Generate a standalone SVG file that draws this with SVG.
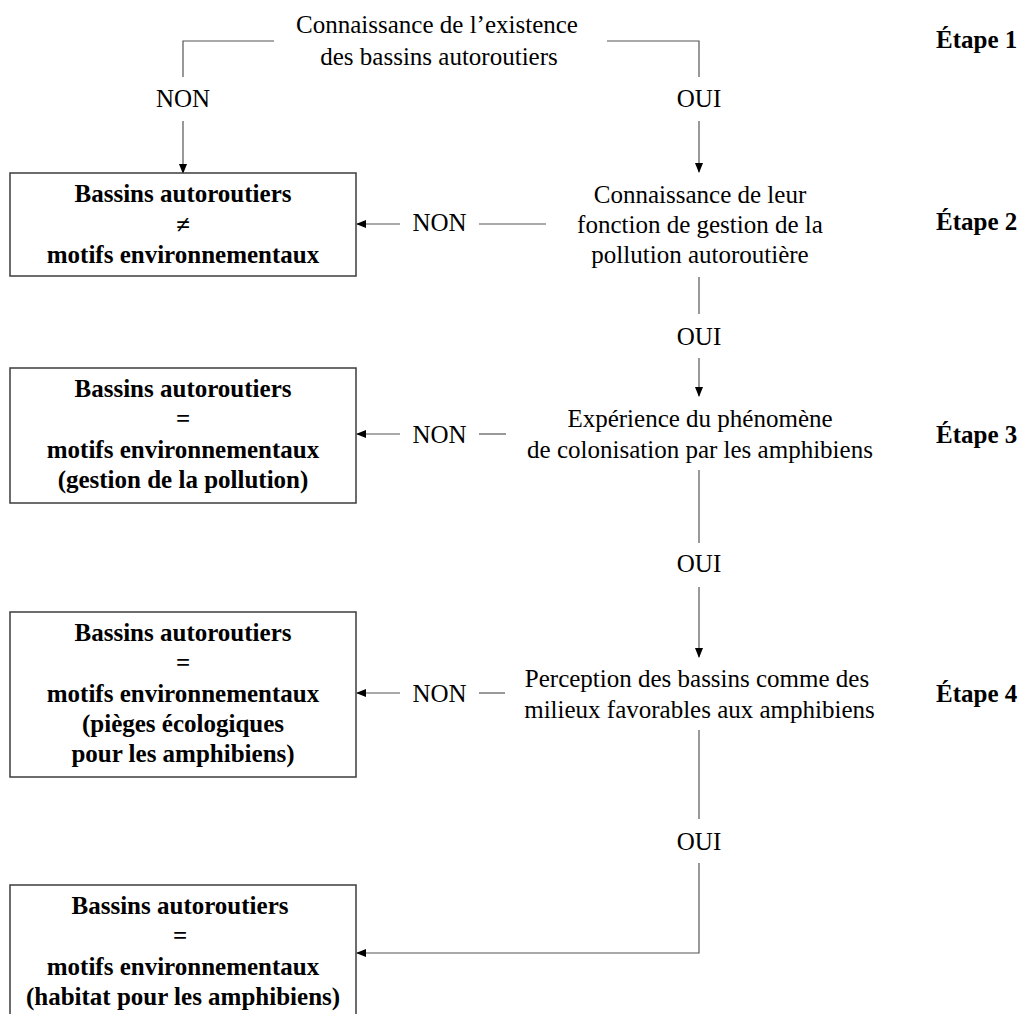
<svg xmlns="http://www.w3.org/2000/svg" width="1019" height="1014" viewBox="0 0 1019 1014">
<defs>
<marker id="ah" markerWidth="10" markerHeight="8" refX="9" refY="4" orient="auto" markerUnits="userSpaceOnUse">
<path d="M0,0 L10,4 L0,8 Z" fill="#000"/>
</marker>
<style>
text{font-family:"Liberation Serif","Times New Roman","DejaVu Serif",serif;font-size:25px;fill:#000;text-anchor:middle}
.b{font-weight:bold}
.st{font-weight:bold;text-anchor:start}
.box{fill:#fff;stroke:#3c3c3c;stroke-width:1.5}
.ln{fill:none;stroke:#555;stroke-width:1.2}
.ar{fill:none;stroke:#555;stroke-width:1.2;marker-end:url(#ah)}
</style>
</defs>
<rect width="1019" height="1014" fill="#fff"/>

<g id="connectors">
<path class="ln" d="M274,41 H183 V77"/>
<text x="183" y="107">NON</text>
<path class="ar" d="M183,121 V173"/>
<path class="ln" d="M607,41 H699 V77"/>
<text x="699" y="107">OUI</text>
<path class="ar" d="M699,121 V172"/>

<path class="ln" d="M546,224 H479"/>
<text x="439.5" y="231">NON</text>
<path class="ar" d="M400,224 H357"/>
<path class="ln" d="M699,277 V314"/>
<text x="699" y="345">OUI</text>
<path class="ar" d="M699,358 V396"/>

<path class="ln" d="M506,434 H479"/>
<text x="439.5" y="443">NON</text>
<path class="ar" d="M400,434 H357"/>
<path class="ln" d="M699,470 V543"/>
<text x="699" y="572">OUI</text>
<path class="ar" d="M699,587 V657"/>

<path class="ln" d="M505,693 H479"/>
<text x="439.5" y="702">NON</text>
<path class="ar" d="M400,693 H357"/>
<path class="ln" d="M699,730 V819"/>
<text x="699" y="850">OUI</text>
<path class="ar" d="M699,863 V953 H357"/>
</g>

<g id="q1">
<text x="437" y="33">Connaissance de l’existence</text>
<text x="439" y="65">des bassins autoroutiers</text>
</g>
<g id="q2">
<text x="700" y="203">Connaissance de leur</text>
<text x="700" y="233">fonction de gestion de la</text>
<text x="700" y="263">pollution autoroutière</text>
</g>
<g id="q3">
<text x="700" y="427">Expérience du phénomène</text>
<text x="700" y="458">de colonisation par les amphibiens</text>
</g>
<g id="q4">
<text x="697" y="687">Perception des bassins comme des</text>
<text x="699.5" y="718">milieux favorables aux amphibiens</text>
</g>

<g id="r1">
<rect class="box" x="10" y="173" width="346" height="103"/>
<text class="b" x="183" y="202">Bassins autoroutiers</text>
<text class="b" x="183" y="233">≠</text>
<text class="b" x="183" y="263">motifs environnementaux</text>
</g>
<g id="r2">
<rect class="box" x="10" y="368" width="346" height="135"/>
<text class="b" x="183" y="397">Bassins autoroutiers</text>
<text class="b" x="183" y="427">=</text>
<text class="b" x="183" y="458">motifs environnementaux</text>
<text class="b" x="183" y="488">(gestion de la pollution)</text>
</g>
<g id="r3">
<rect class="box" x="10" y="612" width="346" height="165"/>
<text class="b" x="183" y="641">Bassins autoroutiers</text>
<text class="b" x="183" y="671">=</text>
<text class="b" x="183" y="702">motifs environnementaux</text>
<text class="b" x="183" y="732">(pièges écologiques</text>
<text class="b" x="183" y="762">pour les amphibiens)</text>
</g>
<g id="r4">
<rect class="box" x="10" y="885" width="346" height="140"/>
<text class="b" x="180" y="914">Bassins autoroutiers</text>
<text class="b" x="180" y="944">=</text>
<text class="b" x="183" y="975">motifs environnementaux</text>
<text class="b" x="183" y="1005">(habitat pour les amphibiens)</text>
</g>

<g id="steps">
<text class="st" x="936" y="48">Étape 1</text>
<text class="st" x="936" y="230">Étape 2</text>
<text class="st" x="936" y="443">Étape 3</text>
<text class="st" x="936" y="702">Étape 4</text>
</g>
</svg>
